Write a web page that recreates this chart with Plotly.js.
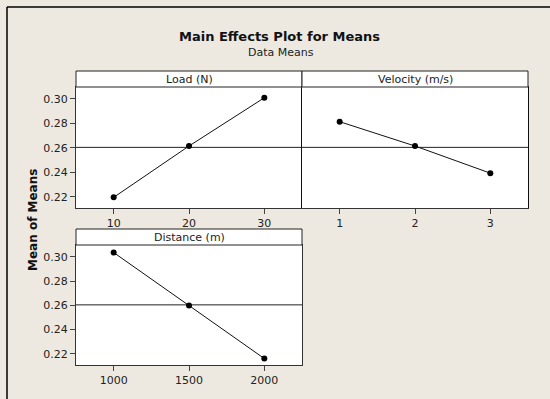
<!DOCTYPE html>
<html><head><meta charset="utf-8">
<script src="https://cdn.plot.ly/plotly-3.0.1.min.js"></script>
<style>html,body{margin:0;padding:0;background:#EDE9E0;}</style>
</head><body><div id="chart" style="width:550px;height:399px;"></div>
<script>
// Data
const loadLevels = [10, 20, 30];
const loadMeans = [0.2195, 0.2615, 0.3010];
const velocityLevels = [1, 2, 3];
const velocityMeans = [0.2814, 0.2615, 0.2393];
const distanceLevels = [1000, 1500, 2000];
const distanceMeans = [0.3036, 0.2598, 0.2161];
const factorNames = ["Load (N)", "Velocity (m/s)", "Distance (m)"];
const yTickVals = [0.22, 0.24, 0.26, 0.28, 0.30];
const yTickText = ["0.22", "0.24", "0.26", "0.28", "0.30"];

const allVals = loadMeans.concat(velocityMeans, distanceMeans);
const grandMean = allVals.reduce((a, b) => a + b, 0) / allVals.length;

const W = 550, H = 399;
const fx = p => p / W;
const fy = p => 1 - p / H;
const FONT = "DejaVu Sans";
const bg = "#EDE9E0";

function tr(x, y, xa, ya) {
  return {x: x, y: y, xaxis: xa, yaxis: ya, type: "scatter", mode: "lines+markers",
    line: {color: "#111", width: 1}, marker: {color: "#000", size: 6}, showlegend: false,
    hoverinfo: "skip"};
}
const data = [
  tr(loadLevels, loadMeans, "x", "y"),
  tr(velocityLevels, velocityMeans, "x2", "y2"),
  tr(distanceLevels, distanceMeans, "x3", "y3")
];

const yr = [0.2108, 0.3098];
const baseX = {showgrid: false, zeroline: false, showline: true, mirror: true, linecolor: "#333", linewidth: 1,
  ticks: "outside", ticklen: 5, tickcolor: "#444", tickfont: {family: FONT, size: 11, color: "#222"}};
const baseY = Object.assign({}, baseX, {range: yr, tickvals: yTickVals, ticktext: yTickText, ticklen: 5});

const layout = {
  width: W, height: H, margin: {l: 0, r: 0, t: 0, b: 0},
  paper_bgcolor: bg, plot_bgcolor: "#FFFFFF", showlegend: false,
  font: {family: FONT, color: "#222"},
  xaxis: Object.assign({}, baseX, {domain: [fx(76), fx(302)], range: [5, 35], tickvals: loadLevels, anchor: "y"}),
  yaxis: Object.assign({}, baseY, {domain: [fy(208), fy(87)], anchor: "x", mirror: false}),
  xaxis2: Object.assign({}, baseX, {domain: [fx(302), fx(528)], range: [0.5, 3.5], tickvals: velocityLevels, anchor: "y2"}),
  yaxis2: Object.assign({}, baseY, {domain: [fy(208), fy(87)], anchor: "x2", showticklabels: false, ticks: "", linecolor: "#111", linewidth: 1.3}),
  xaxis3: Object.assign({}, baseX, {domain: [fx(76), fx(302)], range: [750, 2250], tickvals: distanceLevels, anchor: "y3"}),
  yaxis3: Object.assign({}, baseY, {domain: [fy(365), fy(245)], anchor: "x3"}),
  shapes: [
    // outer frame (top and left)
    {type: "line", xref: "paper", yref: "paper", x0: fx(7), x1: 1, y0: fy(7), y1: fy(7), line: {color: "#000", width: 1.5}},
    {type: "line", xref: "paper", yref: "paper", x0: fx(7), x1: fx(7), y0: fy(7), y1: 0, line: {color: "#000", width: 1.5}},
    // strip headers
    {type: "rect", xref: "paper", yref: "paper", x0: fx(76), x1: fx(302), y0: fy(87), y1: fy(71), fillcolor: "#FFF", line: {color: "#222", width: 1}},
    {type: "rect", xref: "paper", yref: "paper", x0: fx(302), x1: fx(528), y0: fy(87), y1: fy(71), fillcolor: "#FFF", line: {color: "#222", width: 1}},
    {type: "rect", xref: "paper", yref: "paper", x0: fx(76), x1: fx(302), y0: fy(245), y1: fy(229), fillcolor: "#FFF", line: {color: "#222", width: 1}},
    // grand mean reference lines
    {type: "line", xref: "x domain", yref: "y", x0: 0, x1: 1, y0: grandMean, y1: grandMean, line: {color: "#222", width: 1}, layer: "below"},
    {type: "line", xref: "x2 domain", yref: "y2", x0: 0, x1: 1, y0: grandMean, y1: grandMean, line: {color: "#222", width: 1}, layer: "below"},
    {type: "line", xref: "x3 domain", yref: "y3", x0: 0, x1: 1, y0: grandMean, y1: grandMean, line: {color: "#222", width: 1}, layer: "below"}
  ],
  annotations: [
    {text: "<b>Main Effects Plot for Means</b>", xref: "paper", yref: "paper", x: fx(280), y: fy(36), showarrow: false,
      font: {family: FONT, size: 13, color: "#111"}, xanchor: "center", yanchor: "middle"},
    {text: "Data Means", xref: "paper", yref: "paper", x: fx(281), y: fy(53), showarrow: false,
      font: {family: FONT, size: 11, color: "#222"}, xanchor: "center", yanchor: "middle"},
    {text: factorNames[0], xref: "paper", yref: "paper", x: fx(189), y: fy(79), showarrow: false,
      font: {family: FONT, size: 11, color: "#222"}, xanchor: "center", yanchor: "middle"},
    {text: factorNames[1], xref: "paper", yref: "paper", x: fx(415), y: fy(79), showarrow: false,
      font: {family: FONT, size: 11, color: "#222"}, xanchor: "center", yanchor: "middle"},
    {text: factorNames[2], xref: "paper", yref: "paper", x: fx(189), y: fy(237), showarrow: false,
      font: {family: FONT, size: 11, color: "#222"}, xanchor: "center", yanchor: "middle"},
    {text: "<b>Mean of Means</b>", xref: "paper", yref: "paper", x: fx(33), y: fy(220), showarrow: false, textangle: -90,
      font: {family: FONT, size: 12, color: "#111"}, xanchor: "center", yanchor: "middle"}
  ]
};
Plotly.newPlot("chart", data, layout, {staticPlot: true, displayModeBar: false});
</script></body></html>
